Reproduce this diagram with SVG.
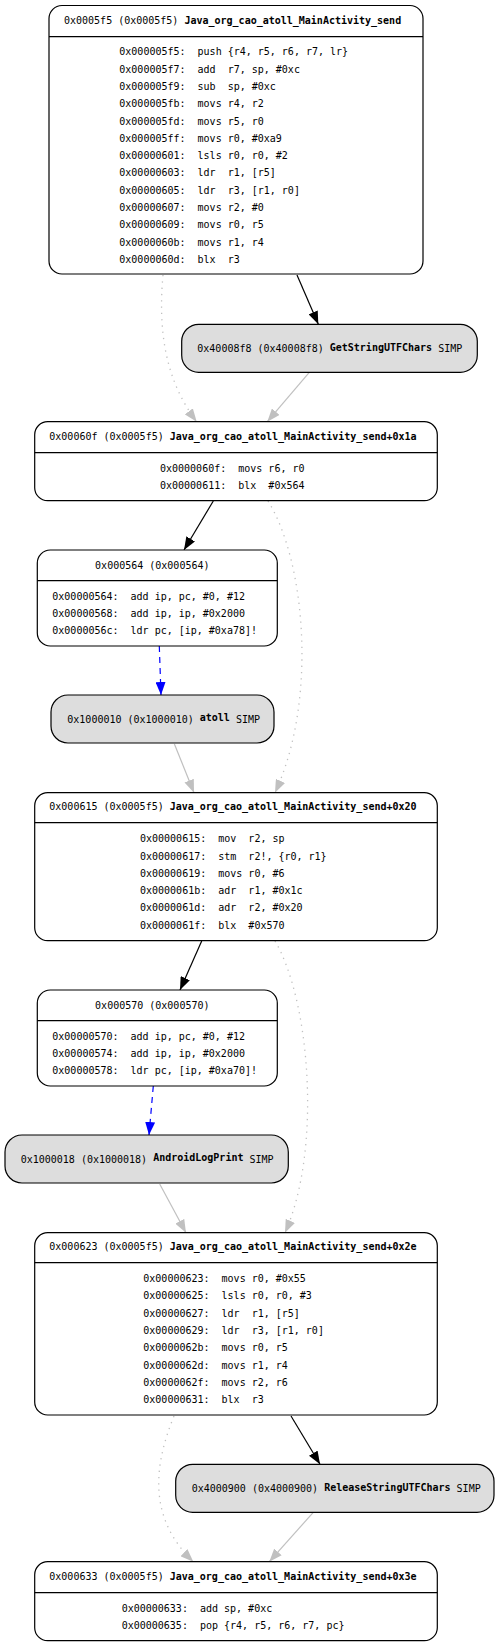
<svg xmlns="http://www.w3.org/2000/svg" width="499" height="1647" viewBox="0 0 499 1647">
<style>
text{font-family:"DejaVu Sans Mono","Liberation Mono",monospace;font-size:10px;fill:#000;white-space:pre}
.b{font-weight:bold}
.box{fill:#fff;stroke:#000;stroke-width:1.2}
.simp{fill:#dddddd;stroke:#000;stroke-width:1.2}
.sep{stroke:#000;stroke-width:1.2}
.e{fill:none;stroke:#000;stroke-width:1.2}
.g{fill:none;stroke:#c0c0c0;stroke-width:1.2}
.d{fill:none;stroke:#c0c0c0;stroke-width:1.3;stroke-dasharray:1.3,5}
.bl{fill:none;stroke:#0000ff;stroke-width:1.2;stroke-dasharray:6,5}
</style>
<defs>
<marker id="ak" viewBox="0 0 13 10" refX="13" refY="5" markerWidth="13" markerHeight="10" markerUnits="userSpaceOnUse" orient="auto"><path d="M0,0 L13,5 L0,10 z" fill="#000"/></marker>
<marker id="ag" viewBox="0 0 13 10" refX="13" refY="5" markerWidth="13" markerHeight="10" markerUnits="userSpaceOnUse" orient="auto"><path d="M0,0 L13,5 L0,10 z" fill="#c0c0c0"/></marker>
<marker id="ab" viewBox="0 0 13 10" refX="13" refY="5" markerWidth="13" markerHeight="10" markerUnits="userSpaceOnUse" orient="auto"><path d="M0,0 L13,5 L0,10 z" fill="#0000ff"/></marker>
</defs>
<g id="edges">
<path class="e" d="M297,275 L318.3,324.3" marker-end="url(#ak)"/>
<path class="d" d="M163,275 C158,330 165,380 196.7,421.7" marker-end="url(#ag)"/>
<path class="g" d="M309.3,372.3 L267.3,421.7" marker-end="url(#ag)"/>
<path class="e" d="M213.3,501 L184,550" marker-end="url(#ak)"/>
<path class="d" d="M268,501 C305,560 318,700 275,792.7" marker-end="url(#ag)"/>
<path class="bl" d="M159.3,646 L161,695" marker-end="url(#ab)"/>
<path class="g" d="M174.4,744 L194,792.7" marker-end="url(#ag)"/>
<path class="e" d="M201.7,941 L180,990" marker-end="url(#ak)"/>
<path class="d" d="M275,941 C310,1000 322,1150 285,1232.7" marker-end="url(#ag)"/>
<path class="bl" d="M153.3,1086 L149,1135" marker-end="url(#ab)"/>
<path class="g" d="M159.7,1184 L186,1232.7" marker-end="url(#ag)"/>
<path class="e" d="M291,1416 L320,1464.3" marker-end="url(#ak)"/>
<path class="d" d="M174,1416 C152,1470 150,1520 193.3,1561.7" marker-end="url(#ag)"/>
<path class="g" d="M313.3,1512.3 L269.3,1561.7" marker-end="url(#ag)"/>
</g>
<g id="n0005f5">
<rect class="box" x="49" y="5.5" width="374" height="268.5" rx="13"/>
<line class="sep" x1="49" y1="36.7" x2="423" y2="36.7"/>
<text x="64" y="23.7">0x0005f5 (0x0005f5) <tspan class="b">Java_org_cao_atoll_MainActivity_send</tspan></text>
<text x="119.3" y="55.4">0x000005f5:  push {r4, r5, r6, r7, lr}</text>
<text x="119.3" y="72.7">0x000005f7:  add  r7, sp, #0xc</text>
<text x="119.3" y="90">0x000005f9:  sub  sp, #0xc</text>
<text x="119.3" y="107.2">0x000005fb:  movs r4, r2</text>
<text x="119.3" y="124.5">0x000005fd:  movs r5, r0</text>
<text x="119.3" y="141.8">0x000005ff:  movs r0, #0xa9</text>
<text x="119.3" y="159.1">0x00000601:  lsls r0, r0, #2</text>
<text x="119.3" y="176.4">0x00000603:  ldr  r1, [r5]</text>
<text x="119.3" y="193.6">0x00000605:  ldr  r3, [r1, r0]</text>
<text x="119.3" y="210.9">0x00000607:  movs r2, #0</text>
<text x="119.3" y="228.2">0x00000609:  movs r0, r5</text>
<text x="119.3" y="245.5">0x0000060b:  movs r1, r4</text>
<text x="119.3" y="262.8">0x0000060d:  blx  r3</text>
</g>
<g id="n40008f8">
<rect class="simp" x="181.7" y="324.3" width="295.6" height="48" rx="17"/>
<text x="197.3" y="352.1">0x40008f8 (0x40008f8) <tspan class="b" dy="-1.5">GetStringUTFChars</tspan><tspan dy="1.5"> SIMP</tspan></text>
</g>
<g id="n00060f">
<rect class="box" x="34.7" y="421.7" width="402.6" height="79" rx="13"/>
<line class="sep" x1="34.7" y1="452.7" x2="437.3" y2="452.7"/>
<text x="49.3" y="439.7">0x00060f (0x0005f5) <tspan class="b">Java_org_cao_atoll_MainActivity_send+0x1a</tspan></text>
<text x="160" y="471.8">0x0000060f:  movs r6, r0</text>
<text x="160" y="489.1">0x00000611:  blx  #0x564</text>
</g>
<g id="n000564">
<rect class="box" x="37.3" y="550" width="240" height="96" rx="13"/>
<line class="sep" x1="37.3" y1="580.7" x2="277.3" y2="580.7"/>
<text x="152.3" y="568.7" text-anchor="middle">0x000564 (0x000564)</text>
<text x="52.3" y="599.8">0x00000564:  add ip, pc, #0, #12</text>
<text x="52.3" y="617.1">0x00000568:  add ip, ip, #0x2000</text>
<text x="52.3" y="634.4">0x0000056c:  ldr pc, [ip, #0xa78]!</text>
</g>
<g id="n1000010">
<rect class="simp" x="51" y="695" width="223" height="48" rx="17"/>
<text x="67.3" y="722.8">0x1000010 (0x1000010) <tspan class="b" dy="-1.5">atoll</tspan><tspan dy="1.5"> SIMP</tspan></text>
</g>
<g id="n000615">
<rect class="box" x="34.7" y="792.7" width="402.6" height="148" rx="13"/>
<line class="sep" x1="34.7" y1="822.7" x2="437.3" y2="822.7"/>
<text x="49.3" y="809.7">0x000615 (0x0005f5) <tspan class="b">Java_org_cao_atoll_MainActivity_send+0x20</tspan></text>
<text x="140" y="842.2">0x00000615:  mov  r2, sp</text>
<text x="140" y="859.5">0x00000617:  stm  r2!, {r0, r1}</text>
<text x="140" y="876.8">0x00000619:  movs r0, #6</text>
<text x="140" y="894.1">0x0000061b:  adr  r1, #0x1c</text>
<text x="140" y="911.4">0x0000061d:  adr  r2, #0x20</text>
<text x="140" y="928.7">0x0000061f:  blx  #0x570</text>
</g>
<g id="n000570">
<rect class="box" x="37.3" y="990" width="240" height="96" rx="13"/>
<line class="sep" x1="37.3" y1="1020.7" x2="277.3" y2="1020.7"/>
<text x="152.3" y="1008.7" text-anchor="middle">0x000570 (0x000570)</text>
<text x="52.3" y="1039.8">0x00000570:  add ip, pc, #0, #12</text>
<text x="52.3" y="1057.1">0x00000574:  add ip, ip, #0x2000</text>
<text x="52.3" y="1074.4">0x00000578:  ldr pc, [ip, #0xa70]!</text>
</g>
<g id="n1000018">
<rect class="simp" x="5" y="1135" width="283.3" height="48" rx="17"/>
<text x="20.7" y="1162.8">0x1000018 (0x1000018) <tspan class="b" dy="-1.5">AndroidLogPrint</tspan><tspan dy="1.5"> SIMP</tspan></text>
</g>
<g id="n000623">
<rect class="box" x="34.7" y="1232.7" width="402.6" height="182.3" rx="13"/>
<line class="sep" x1="34.7" y1="1262.7" x2="437.3" y2="1262.7"/>
<text x="49.3" y="1249.7">0x000623 (0x0005f5) <tspan class="b">Java_org_cao_atoll_MainActivity_send+0x2e</tspan></text>
<text x="143.3" y="1282.1">0x00000623:  movs r0, #0x55</text>
<text x="143.3" y="1299.4">0x00000625:  lsls r0, r0, #3</text>
<text x="143.3" y="1316.7">0x00000627:  ldr  r1, [r5]</text>
<text x="143.3" y="1334">0x00000629:  ldr  r3, [r1, r0]</text>
<text x="143.3" y="1351.3">0x0000062b:  movs r0, r5</text>
<text x="143.3" y="1368.6">0x0000062d:  movs r1, r4</text>
<text x="143.3" y="1385.9">0x0000062f:  movs r2, r6</text>
<text x="143.3" y="1403.2">0x00000631:  blx  r3</text>
</g>
<g id="n4000900">
<rect class="simp" x="175.7" y="1464.3" width="318.3" height="48" rx="17"/>
<text x="191.7" y="1492.1">0x4000900 (0x4000900) <tspan class="b" dy="-1.5">ReleaseStringUTFChars</tspan><tspan dy="1.5"> SIMP</tspan></text>
</g>
<g id="n000633">
<rect class="box" x="34.7" y="1561.7" width="402.6" height="79" rx="13"/>
<line class="sep" x1="34.7" y1="1592.7" x2="437.3" y2="1592.7"/>
<text x="49.3" y="1579.7">0x000633 (0x0005f5) <tspan class="b">Java_org_cao_atoll_MainActivity_send+0x3e</tspan></text>
<text x="121.7" y="1611.8">0x00000633:  add sp, #0xc</text>
<text x="121.7" y="1629.1">0x00000635:  pop {r4, r5, r6, r7, pc}</text>
</g>
</svg>
